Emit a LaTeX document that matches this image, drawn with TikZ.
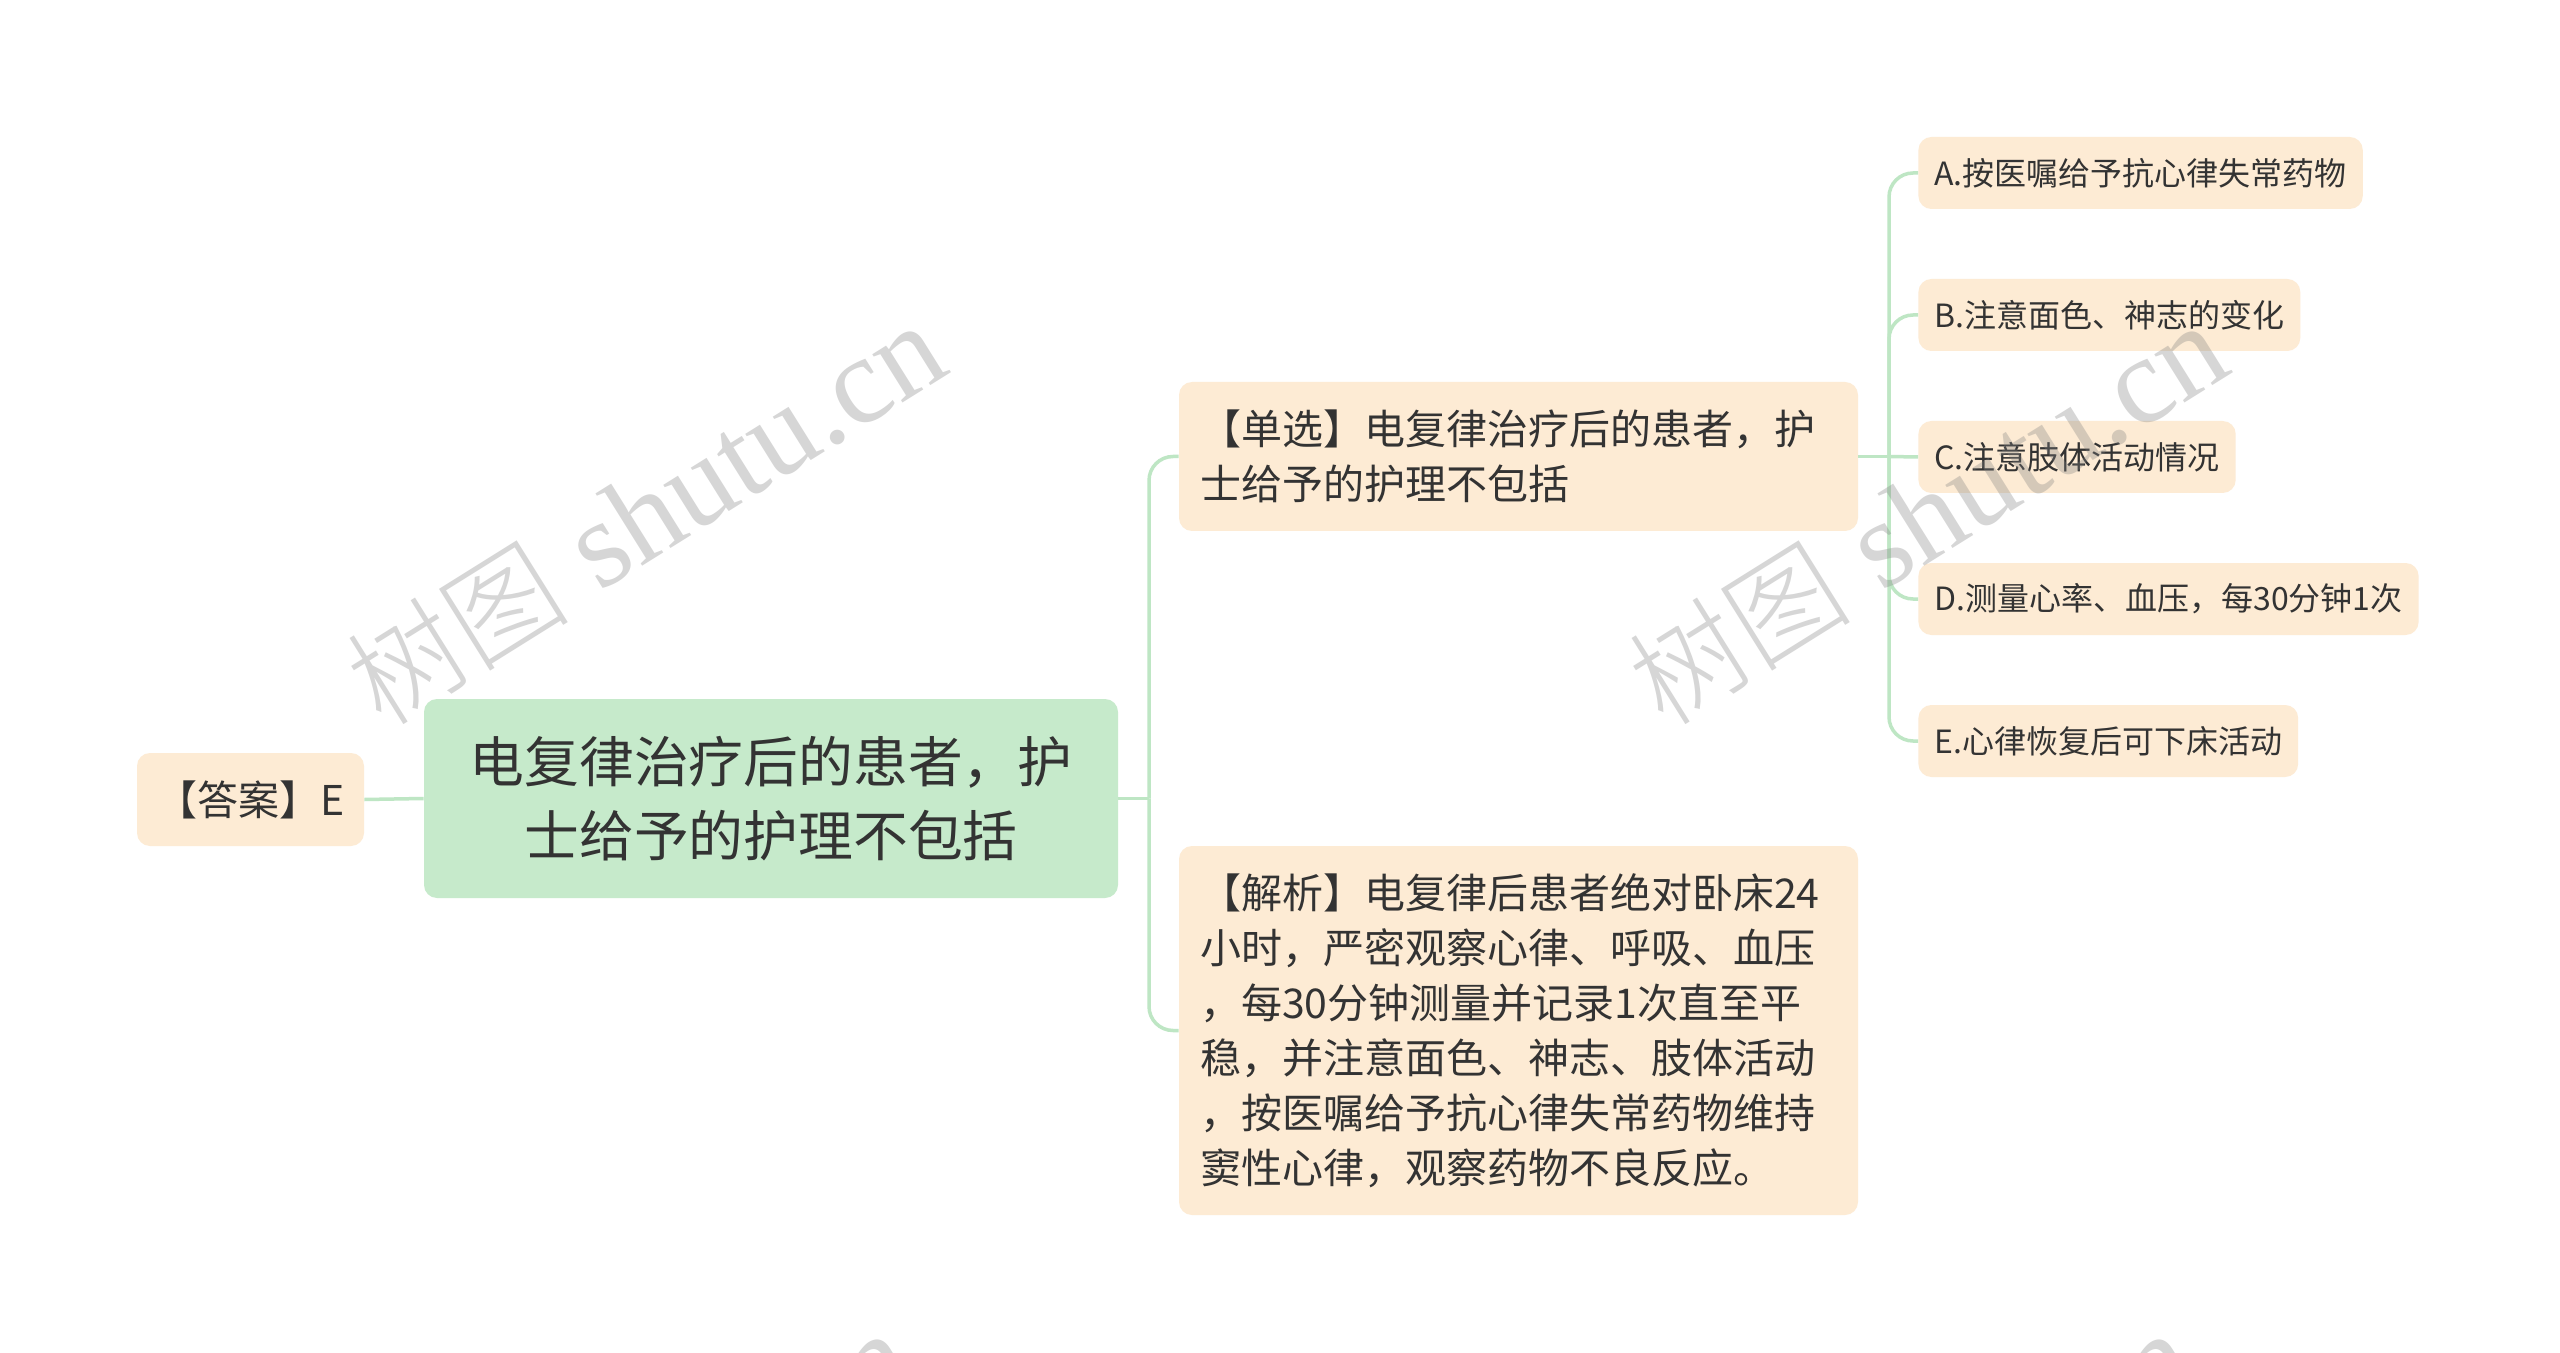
\documentclass[tikz,border=0pt]{standalone}
\usepackage{fontspec}
\setmainfont{Noto Sans CJK SC}
\newfontfamily\wmserif{Liberation Serif}
\newfontfamily\wmcjk{Noto Sans CJK SC Light}
\definecolor{rootfill}{RGB}{198,234,203}
\definecolor{peach}{RGB}{253,235,212}
\definecolor{conncol}{RGB}{190,230,196}
\definecolor{txt}{RGB}{51,51,51}
\definecolor{wmgray}{RGB}{128,128,128}
\tikzset{
  box/.style={rounded corners=6.5pt, inner sep=0pt, text=txt},
  rootbox/.style={box, fill=rootfill, minimum width=347pt, minimum height=99.5pt,
    align=center, font={\fontsize{27.4}{36.75}\selectfont}},
  mainbox/.style={box, fill=peach, minimum width=339.5pt, inner xsep=10.5pt,
    text width=318.5pt, align=left, font={\fontsize{20.5}{27.5}\selectfont}},
  ansbox/.style={box, fill=peach, minimum width=113.5pt, minimum height=46.5pt,
    font={\fontsize{20.5}{27.5}\selectfont}},
  optbox/.style={box, fill=peach, minimum height=36pt, inner xsep=8pt, anchor=west,
    font={\fontsize{16}{20}\selectfont}},
  conn/.style={draw=conncol, line width=1.75pt, rounded corners=12pt},
  wmark/.style={text=wmgray, text opacity=0.32, rotate=32, inner sep=0pt},
}
\newcommand{\wmtext}{{\fontsize{56}{56}\selectfont\wmcjk 树图}\hspace{16pt}{\fontsize{62}{62}\selectfont\wmserif shutu.cn}}
\begin{document}
\begin{tikzpicture}[x=0.5pt,y=-0.5pt]
\useasboundingbox (0,0) rectangle (2560,1353);
\fill[white] (0,0) rectangle (2560,1353);

\node[rootbox] (root) at (771,798.5) {电复律治疗后的患者，护\\士给予的护理不包括};
\node[ansbox] (ans) at (250.5,799.5) {【答案】E};
\node[mainbox, minimum height=74.5pt] (single) at (1518.5,456.5)
  {【单选】电复律治疗后的患者，护\\士给予的护理不包括};
\node[mainbox, minimum height=184.5pt] (analysis) at (1518.5,1030.5)
  {【解析】电复律后患者绝对卧床24\\小时，严密观察心律、呼吸、血压\\，每30分钟测量并记录1次直至平\\稳，并注意面色、神志、肢体活动\\，按医嘱给予抗心律失常药物维持\\窦性心律，观察药物不良反应。};

\node[optbox] (oa) at (1918,173) {A.按医嘱给予抗心律失常药物};
\node[optbox] (ob) at (1918,315) {B.注意面色、神志的变化};
\node[optbox] (oc) at (1918,457) {C.注意肢体活动情况};
\node[optbox] (od) at (1918,599) {D.测量心率、血压，每30分钟1次};
\node[optbox] (oe) at (1918,741) {E.心律恢复后可下床活动};

\coordinate (j1) at (1149,798.5);
\coordinate (j2) at (1889,456.5);

\draw[conn] (ans.east) -- (root.west);
\draw[conn] (root.east) -- (j1);
\draw[conn] (j1) |- (single.west);
\draw[conn] (j1) |- (analysis.west);

\draw[conn] (single.east) -- (j2);
\draw[conn] (j2) |- (oa.west);
\draw[conn] (j2) |- (ob.west);
\draw[conn] (j2) -- (oc.west);
\draw[conn] (j2) |- (od.west);
\draw[conn] (j2) |- (oe.west);

\begin{scope}
\clip (0,0) rectangle (2560,1353);
\node[wmark] (w1) at (645,514) {\wmtext};
\node[wmark] (w2) at (1927,514) {\wmtext};
\node[wmark] (w3) at (612,1522) {\wmtext};
\node[wmark] (w4) at (1894,1522) {\wmtext};
\end{scope}
\end{tikzpicture}
\end{document}
